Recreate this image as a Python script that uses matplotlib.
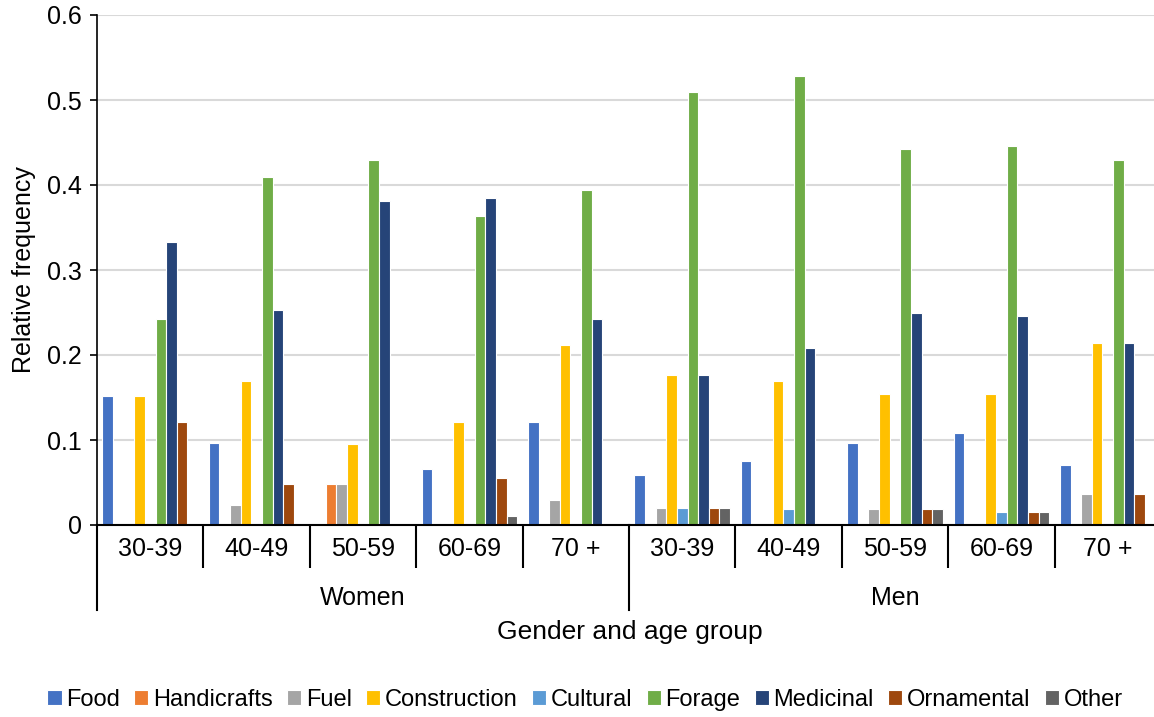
import numpy as np
import matplotlib.pyplot as plt

plt.rcParams['font.family'] = ['Liberation Sans', 'DejaVu Sans']

age_groups = ['30-39', '40-49', '50-59', '60-69', '70 +'] * 2
genders = ['Women', 'Men']
categories = ['Food', 'Handicrafts', 'Fuel', 'Construction', 'Cultural',
              'Forage', 'Medicinal', 'Ornamental', 'Other']
colors = ['#4472c4', '#ed7d31', '#a5a5a5', '#ffc000', '#5b9bd5',
          '#70ad47', '#264478', '#9e480e', '#636363']

# one list per category, 10 groups (Women 30-39 ... Men 70 +)
food = [0.152, 0.097, 0.0, 0.066, 0.121, 0.059, 0.075, 0.096, 0.108, 0.071]
handicrafts = [0.0, 0.0, 0.048, 0.0, 0.0, 0.0, 0.0, 0.0, 0.0, 0.0]
fuel = [0.0, 0.024, 0.048, 0.0, 0.030, 0.020, 0.0, 0.019, 0.0, 0.036]
construction = [0.152, 0.169, 0.095, 0.121, 0.212, 0.176, 0.170, 0.154, 0.154, 0.214]
cultural = [0.0, 0.0, 0.0, 0.0, 0.0, 0.020, 0.019, 0.0, 0.015, 0.0]
forage = [0.242, 0.410, 0.429, 0.363, 0.394, 0.510, 0.528, 0.442, 0.446, 0.429]
medicinal = [0.333, 0.253, 0.381, 0.385, 0.242, 0.176, 0.208, 0.250, 0.246, 0.214]
ornamental = [0.121, 0.048, 0.0, 0.055, 0.0, 0.020, 0.0, 0.019, 0.015, 0.036]
other = [0.0, 0.0, 0.0, 0.011, 0.0, 0.020, 0.0, 0.019, 0.015, 0.0]

series = [food, handicrafts, fuel, construction, cultural, forage, medicinal, ornamental, other]

fig = plt.figure(figsize=(11.54, 7.17), dpi=100)
ax = fig.add_axes([97 / 1154, 1 - 525 / 717, 1064 / 1154, 510 / 717])

x = np.arange(len(age_groups))
w = 0.1
for j, (name, vals, c) in enumerate(zip(categories, series, colors)):
    h = np.array(vals, dtype=float)
    h[h == 0] = np.nan  # empty cells draw nothing
    ax.bar(x + 0.1 + w * j, h, width=w, color=c, edgecolor='white',
           linewidth=0.8, label=name, zorder=3)

ax.set_xlim(0, 10)
ax.set_ylim(0, 0.6)
ax.set_yticks(np.arange(0, 0.61, 0.1))
ax.set_yticklabels(['0', '0.1', '0.2', '0.3', '0.4', '0.5', '0.6'])
ax.yaxis.grid(True, color='#d9d9d9', linewidth=1.5, zorder=0)
for s in ['top', 'right']:
    ax.spines[s].set_visible(False)
ax.spines['left'].set_linewidth(1.2)
ax.spines['bottom'].set_linewidth(1.5)
ax.spines['bottom'].set_zorder(4)
ax.tick_params(axis='y', length=5, width=1.2, labelsize=18, pad=6)

# category axis: short ticks between age groups, long ones at gender breaks
ax.set_xticks([1, 2, 3, 4, 6, 7, 8, 9])
ax.set_xticklabels([])
ax.tick_params(axis='x', which='major', length=31, width=1.5)
ax.set_xticks(x + 0.5, minor=True)
ax.set_xticklabels(age_groups, minor=True)
ax.tick_params(axis='x', which='minor', length=0, labelsize=18, pad=9)
for xb in [0, 5]:
    ax.axvline(xb, ymin=-0.167, ymax=0, color='black', linewidth=1.5, clip_on=False)
for k, g in enumerate(genders):
    ax.text(2.5 + 5 * k, -0.143, g, ha='center', va='center', fontsize=18,
            transform=ax.get_xaxis_transform())

ax.set_ylabel('Relative frequency', fontsize=18, labelpad=8)
fig.text(630 / 1154, 1 - 632 / 717, 'Gender and age group', ha='center', va='center', fontsize=19)

fig.legend(loc='center', bbox_to_anchor=(585 / 1154, 1 - 700 / 717), ncol=9, frameon=False,
           fontsize=17, handlelength=0.6, handleheight=0.6, handletextpad=0.2, columnspacing=0.6)

fig.savefig('out.png', dpi=100)
